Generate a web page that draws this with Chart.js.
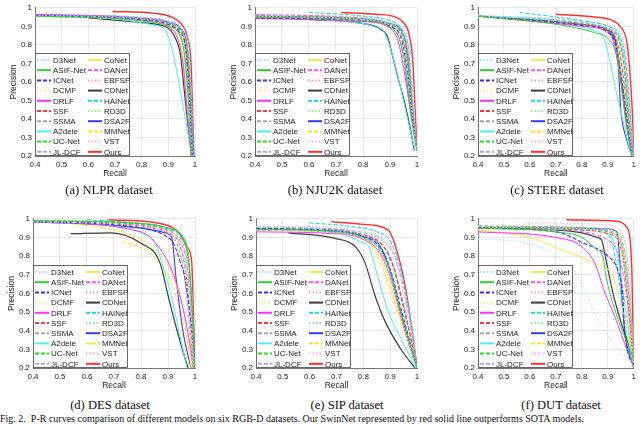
<!DOCTYPE html>
<html>
<head>
<meta charset="utf-8">
<script src="https://cdn.jsdelivr.net/npm/chart.js@4.4.0/dist/chart.umd.min.js"></script>
<style>
  body { margin: 0; background: #fff; }
  #fig { position: relative; width: 640px; height: 424px; overflow: hidden; background: #fff; }
  #fig canvas { position: absolute; }
  .sub { position: absolute; font-family: "Liberation Serif", serif; font-size: 12.6px; color: #111;
         white-space: nowrap; transform: translate(-50%, -50%); }
  #figcap { position: absolute; left: 0; top: 413px; font-family: "Liberation Serif", serif; font-size: 10px;
            color: #111; white-space: pre; }
</style>
</head>
<body>
<div id="fig">
  <canvas id="cA" width="213" height="183" style="left:0px;top:0px"></canvas>
  <canvas id="cB" width="215" height="183" style="left:220px;top:0px"></canvas>
  <canvas id="cC" width="197" height="183" style="left:443px;top:0px"></canvas>
  <canvas id="cD" width="215" height="184" style="left:-2px;top:211px"></canvas>
  <canvas id="cE" width="215" height="184" style="left:221px;top:211px"></canvas>
  <canvas id="cF" width="197" height="184" style="left:443px;top:211px"></canvas>
  <div class="sub" style="left:109px;top:190px">(a) NLPR dataset</div>
  <div class="sub" style="left:335px;top:190px">(b) NJU2K dataset</div>
  <div class="sub" style="left:557px;top:190px">(c) STERE dataset</div>
  <div class="sub" style="left:110px;top:405px">(d) DES dataset</div>
  <div class="sub" style="left:347px;top:405px">(e) SIP dataset</div>
  <div class="sub" style="left:561px;top:405px">(f) DUT dataset</div>
  <div id="figcap">Fig. 2.  P-R curves comparison of different models on six RGB-D datasets. Our SwinNet represented by red solid line outperforms SOTA models.</div>
</div>
<script>
// model names, legend order (two columns of ten)
const models = ['D3Net', 'ASIF-Net', 'ICNet', 'DCMF', 'DRLF', 'SSF', 'SSMA', 'A2dele', 'UC-Net', 'JL-DCF',
                'CoNet', 'DANet', 'EBFSP', 'CDNet', 'HAINet', 'RD3D', 'DSA2F', 'MMNet', 'VST', 'Ours'];

const xTicks = [0.4, 0.5, 0.6, 0.7, 0.8, 0.9, 1];
const yTicks = [0.2, 0.3, 0.4, 0.5, 0.6, 0.7, 0.8, 0.9, 1];

// [recall, precision] points, one row per model
const nlpr = [
  [[.4,.96],[.8,.94],[.9,.915],[.94,.88],[.96,.8],[.975,.6],[.985,.35],[.99,.2]],
  [[.4,.955],[.8,.93],[.9,.9],[.94,.86],[.96,.75],[.975,.5],[.985,.2]],
  [[.4,.96],[.8,.935],[.9,.91],[.94,.87],[.965,.78],[.98,.5],[.99,.2]],
  [[.4,.955],[.8,.93],[.9,.905],[.94,.86],[.96,.76],[.975,.5],[.988,.2]],
  [[.4,.965],[.8,.935],[.9,.9],[.93,.85],[.955,.7],[.97,.45],[.985,.2]],
  [[.4,.96],[.8,.94],[.9,.915],[.945,.87],[.965,.78],[.98,.5],[.99,.2]],
  [[.4,.96],[.8,.935],[.9,.905],[.94,.86],[.96,.76],[.975,.5],[.988,.2]],
  [[.4,.955],[.7,.94],[.85,.905],[.89,.875],[.99,.2]],
  [[.4,.96],[.8,.94],[.9,.915],[.95,.87],[.97,.78],[.983,.5],[.992,.2]],
  [[.4,.965],[.8,.945],[.9,.925],[.95,.88],[.97,.8],[.985,.5],[.993,.2]],
  [[.4,.955],[.8,.93],[.9,.9],[.935,.85],[.955,.74],[.97,.5],[.985,.2]],
  [[.4,.962],[.8,.94],[.9,.915],[.945,.87],[.965,.78],[.98,.5],[.99,.2]],
  [[.4,.96],[.8,.94],[.9,.918],[.945,.875],[.968,.78],[.982,.5],[.99,.2]],
  [[.6,.945],[.8,.92],[.9,.89],[.925,.84],[.945,.75],[.96,.55],[.975,.35],[.988,.2]],
  [[.4,.963],[.8,.945],[.9,.92],[.95,.88],[.97,.8],[.985,.5],[.993,.2]],
  [[.4,.965],[.8,.948],[.9,.928],[.95,.89],[.972,.8],[.987,.5],[.995,.2]],
  [[.4,.963],[.8,.945],[.9,.922],[.95,.88],[.97,.8],[.985,.5],[.995,.2]],
  [[.4,.958],[.8,.935],[.9,.91],[.94,.87],[.962,.78],[.978,.5],[.99,.2]],
  [[.4,.966],[.8,.95],[.9,.93],[.95,.9],[.975,.82],[.988,.5],[.996,.2]],
  [[.69,.98],[.85,.97],[.92,.945],[.95,.91],[.97,.85],[.985,.7],[.992,.4],[.996,.2]]
];

const nju2k = [
  [[.4,.955],[.8,.935],[.9,.905],[.94,.85],[.96,.72],[.98,.45],[1,.23]],
  [[.4,.95],[.8,.93],[.9,.895],[.935,.83],[.955,.7],[.975,.45],[1,.23]],
  [[.4,.945],[.8,.93],[.9,.9],[.94,.84],[.96,.7],[.98,.45],[1,.23]],
  [[.4,.95],[.8,.935],[.9,.905],[.94,.85],[.96,.72],[.98,.45],[1,.23]],
  [[.4,.942],[.8,.925],[.9,.89],[.93,.82],[.95,.68],[.975,.45],[1,.23]],
  [[.4,.955],[.8,.935],[.9,.905],[.94,.85],[.962,.72],[.98,.45],[1,.23]],
  [[.4,.95],[.8,.93],[.9,.895],[.935,.83],[.955,.68],[.975,.45],[1,.23]],
  [[.4,.945],[.7,.93],[.85,.895],[.88,.865],[.993,.23]],
  [[.4,.955],[.8,.937],[.9,.91],[.945,.86],[.965,.74],[.982,.45],[1,.23]],
  [[.4,.958],[.8,.94],[.9,.915],[.945,.87],[.968,.75],[.985,.45],[1,.23]],
  [[.4,.948],[.8,.93],[.9,.895],[.935,.83],[.955,.7],[.975,.45],[1,.23]],
  [[.4,.965],[.8,.94],[.9,.91],[.94,.86],[.962,.73],[.98,.45],[1,.23]],
  [[.4,.955],[.8,.937],[.9,.91],[.945,.86],[.965,.74],[.982,.45],[1,.23]],
  [[.55,.94],[.8,.915],[.86,.89],[.89,.845],[.906,.76],[.93,.62],[.952,.5],[.975,.35],[.99,.23]],
  [[.6,.975],[.8,.955],[.9,.93],[.945,.88],[.97,.76],[.985,.45],[1,.23]],
  [[.4,.96],[.8,.945],[.9,.92],[.95,.875],[.972,.76],[.987,.45],[1,.23]],
  [[.4,.955],[.8,.94],[.9,.915],[.945,.87],[.965,.75],[.983,.45],[1,.23]],
  [[.4,.955],[.8,.935],[.9,.905],[.94,.85],[.962,.72],[.98,.45],[1,.23]],
  [[.4,.962],[.8,.95],[.9,.93],[.95,.89],[.975,.78],[.99,.45],[1,.23]],
  [[.72,.975],[.85,.965],[.92,.95],[.95,.92],[.97,.86],[.985,.7],[.993,.45],[1,.23]]
];

const stere = [
  [[.4,.958],[.8,.915],[.9,.885],[.935,.84],[.955,.72],[.975,.45],[.995,.2]],
  [[.4,.955],[.75,.9],[.85,.865],[.9,.835],[.93,.76],[.955,.55],[.98,.3],[.995,.2]],
  [[.4,.955],[.8,.905],[.9,.87],[.93,.8],[.955,.6],[.975,.38],[.995,.2]],
  [[.4,.952],[.8,.905],[.9,.87],[.93,.8],[.955,.62],[.975,.4],[.995,.2]],
  [[.4,.955],[.8,.9],[.9,.865],[.925,.8],[.95,.6],[.97,.38],[.995,.2]],
  [[.4,.955],[.8,.91],[.9,.88],[.935,.82],[.958,.65],[.978,.4],[.995,.2]],
  [[.4,.955],[.8,.905],[.9,.875],[.93,.8],[.955,.6],[.975,.4],[.995,.2]],
  [[.4,.955],[.7,.93],[.85,.875],[.88,.85],[.94,.5],[.99,.2]],
  [[.4,.955],[.8,.915],[.9,.885],[.94,.84],[.96,.72],[.978,.45],[.995,.2]],
  [[.4,.958],[.8,.92],[.9,.89],[.945,.84],[.965,.72],[.982,.45],[.997,.2]],
  [[.4,.952],[.8,.905],[.9,.87],[.93,.8],[.955,.62],[.975,.4],[.995,.2]],
  [[.4,.957],[.8,.915],[.9,.885],[.94,.835],[.962,.7],[.98,.42],[.997,.2]],
  [[.4,.955],[.8,.915],[.9,.885],[.94,.835],[.962,.7],[.98,.42],[.997,.2]],
  [[.4,.955],[.8,.91],[.9,.875],[.93,.81],[.95,.65],[.97,.4],[.993,.2]],
  [[.56,.975],[.8,.93],[.9,.9],[.945,.85],[.968,.72],[.985,.45],[.998,.2]],
  [[.4,.958],[.8,.925],[.9,.9],[.948,.85],[.97,.73],[.986,.45],[.998,.2]],
  [[.4,.955],[.8,.91],[.9,.88],[.93,.82],[.94,.7],[.95,.45],[.97,.3],[.993,.2]],
  [[.4,.955],[.8,.91],[.9,.88],[.935,.82],[.958,.66],[.978,.4],[.996,.2]],
  [[.4,.96],[.8,.93],[.9,.905],[.95,.86],[.972,.74],[.988,.45],[.999,.2]],
  [[.7,.965],[.85,.95],[.92,.93],[.95,.895],[.975,.8],[.99,.55],[.997,.35],[1,.2]]
];

const des = [
  [[.4,.985],[.8,.96],[.9,.93],[.945,.88],[.97,.75],[.985,.5],[.995,.2]],
  [[.4,.99],[.8,.975],[.9,.95],[.95,.91],[.975,.8],[.99,.5],[.998,.2]],
  [[.4,.985],[.8,.95],[.9,.9],[.92,.87],[.945,.77],[.963,.68],[.98,.5],[.994,.33],[1,.25]],
  [[.4,.985],[.8,.96],[.9,.925],[.94,.87],[.965,.72],[.982,.45],[.992,.2]],
  [[.4,.983],[.8,.93],[.88,.82],[.915,.72],[.944,.59],[.97,.42],[.988,.26],[.993,.2]],
  [[.4,.987],[.8,.96],[.9,.925],[.94,.87],[.965,.72],[.983,.45],[.993,.2]],
  [[.4,.985],[.8,.955],[.9,.92],[.935,.86],[.96,.7],[.98,.42],[.992,.2]],
  [[.4,.985],[.7,.96],[.8,.925],[.856,.86],[.88,.75],[.91,.6],[.94,.4],[.97,.2]],
  [[.4,.99],[.8,.972],[.9,.945],[.95,.9],[.975,.78],[.99,.5],[.998,.2]],
  [[.4,.988],[.8,.968],[.9,.94],[.948,.89],[.972,.76],[.988,.5],[.997,.2]],
  [[.4,.985],[.6,.965],[.75,.92],[.85,.84],[.9,.75],[.94,.6],[.97,.4],[.985,.2]],
  [[.4,.988],[.8,.965],[.9,.935],[.945,.88],[.97,.75],[.986,.48],[.995,.2]],
  [[.4,.985],[.8,.96],[.9,.93],[.94,.87],[.965,.74],[.983,.48],[.994,.2]],
  [[.54,.92],[.69,.925],[.8,.869],[.87,.765],[.9,.59],[.93,.42],[.969,.225],[.975,.2]],
  [[.6,.995],[.8,.975],[.9,.95],[.95,.905],[.975,.78],[.99,.5],[.998,.2]],
  [[.4,.99],[.8,.975],[.9,.95],[.952,.91],[.976,.8],[.99,.52],[.998,.2]],
  [[.4,.985],[.8,.95],[.9,.92],[.914,.9],[.93,.68],[.955,.4],[.985,.2]],
  [[.73,.878],[.846,.8],[.92,.625],[.97,.36],[.99,.2]],
  [[.4,.99],[.8,.978],[.9,.955],[.955,.915],[.978,.8],[.992,.5],[.999,.2]],
  [[.68,.995],[.85,.98],[.92,.95],[.944,.92],[.97,.85],[.988,.765],[.995,.45],[1,.2]]
];

const sip = [
  [[.4,.958],[.7,.935],[.8,.91],[.86,.86],[.9,.76],[.94,.55],[.97,.38],[1,.2]],
  [[.4,.945],[.7,.93],[.8,.9],[.86,.84],[.9,.72],[.94,.5],[.97,.35],[1,.2]],
  [[.4,.948],[.7,.935],[.8,.905],[.86,.85],[.9,.73],[.94,.52],[.97,.36],[1,.2]],
  [[.4,.942],[.7,.925],[.8,.895],[.86,.83],[.9,.7],[.935,.5],[.97,.33],[1,.2]],
  [[.4,.93],[.7,.92],[.8,.89],[.86,.82],[.9,.69],[.935,.5],[.97,.33],[1,.2]],
  [[.4,.945],[.7,.935],[.8,.91],[.87,.86],[.91,.75],[.945,.55],[.975,.37],[1,.2]],
  [[.4,.94],[.7,.925],[.8,.895],[.86,.83],[.9,.7],[.935,.5],[.97,.33],[1,.2]],
  [[.4,.945],[.7,.925],[.8,.87],[.82,.852],[.856,.677],[.893,.503],[.95,.33],[.995,.2]],
  [[.4,.948],[.7,.937],[.8,.912],[.87,.86],[.91,.75],[.945,.56],[.975,.37],[1,.2]],
  [[.4,.955],[.7,.945],[.8,.925],[.88,.88],[.92,.79],[.955,.6],[.98,.4],[1,.2]],
  [[.4,.94],[.7,.925],[.8,.89],[.85,.83],[.89,.7],[.93,.5],[.97,.32],[1,.2]],
  [[.4,.95],[.7,.94],[.8,.915],[.87,.865],[.91,.76],[.945,.57],[.975,.38],[1,.2]],
  [[.4,.95],[.7,.94],[.8,.915],[.88,.87],[.92,.78],[.95,.6],[.978,.4],[1,.2]],
  [[.52,.925],[.694,.895],[.769,.852],[.806,.765],[.843,.59],[.881,.45],[.943,.294],[.993,.2]],
  [[.6,.978],[.75,.96],[.85,.93],[.9,.88],[.935,.75],[.96,.58],[.985,.38],[1,.2]],
  [[.4,.955],[.7,.945],[.8,.93],[.88,.89],[.92,.8],[.955,.62],[.98,.4],[1,.2]],
  [[.4,.945],[.7,.935],[.8,.905],[.865,.85],[.9,.72],[.935,.52],[.97,.34],[1,.2]],
  [[.4,.945],[.7,.93],[.8,.895],[.82,.87],[.86,.78],[.9,.62],[.94,.45],[.97,.33],[1,.2]],
  [[.4,.96],[.7,.955],[.8,.945],[.88,.91],[.925,.8],[.955,.62],[.98,.42],[1,.2]],
  [[.68,.985],[.8,.97],[.893,.939],[.937,.765],[.962,.59],[.98,.416],[.999,.216]]
];

const dut = [
  [[.4,.89],[.55,.88],[.65,.84],[.72,.78],[.8,.66],[.845,.503],[.9,.38],[.95,.28],[.995,.226]],
  [[.4,.95],[.7,.93],[.8,.9],[.857,.834],[.88,.8],[.895,.677],[.93,.5],[.97,.35],[1,.25]],
  [[.4,.95],[.7,.93],[.807,.869],[.9,.8],[.94,.72],[.957,.6],[.965,.4],[.985,.25],[1,.22]],
  [[.4,.955],[.8,.945],[.9,.925],[.945,.88],[.965,.74],[.985,.48],[1,.22]],
  [[.4,.93],[.7,.9],[.8,.85],[.85,.76],[.89,.6],[.92,.5],[.96,.35],[1,.2]],
  [[.4,.95],[.8,.94],[.9,.92],[.945,.87],[.965,.72],[.985,.45],[1,.22]],
  [[.4,.962],[.8,.95],[.9,.93],[.95,.88],[.97,.75],[.985,.5],[1,.22]],
  [[.4,.95],[.8,.94],[.9,.92],[.93,.85],[.95,.7],[.97,.5],[.99,.3],[1,.22]],
  [[.4,.955],[.8,.945],[.9,.93],[.945,.89],[.965,.75],[.985,.5],[1,.22]],
  [[.4,.96],[.8,.95],[.9,.935],[.95,.9],[.97,.78],[.988,.5],[1,.22]],
  [[.4,.94],[.6,.9],[.72,.835],[.85,.76],[.918,.696],[.95,.55],[.98,.35],[1,.2]],
  [[.4,.955],[.8,.93],[.88,.9],[.93,.84],[.96,.7],[.98,.5],[1,.22]],
  [[.4,.94],[.8,.87],[.895,.817],[.94,.7],[.97,.5],[.99,.3],[1,.22]],
  [[.4,.95],[.7,.94],[.8,.925],[.86,.9],[.876,.886],[.89,.8],[.92,.6],[.95,.45],[.98,.32],[1,.22]],
  [[.4,.955],[.8,.94],[.895,.922],[.92,.85],[.94,.7],[.96,.5],[.98,.3],[1,.22]],
  [[.4,.96],[.8,.955],[.9,.945],[.95,.915],[.975,.8],[.99,.5],[1,.22]],
  [[.4,.955],[.8,.95],[.9,.945],[.935,.93],[.945,.8],[.955,.55],[.97,.35],[1,.22]],
  [[.4,.955],[.8,.95],[.9,.94],[.95,.91],[.965,.75],[.98,.5],[1,.22]],
  [[.58,.978],[.9,.968],[.94,.945],[.96,.9],[.975,.8],[.988,.55],[1,.22]],
  [[.74,.995],[.9,.99],[.95,.982],[.97,.96],[.985,.9],[.993,.7],[.997,.4],[1,.2]]
];

// line styles per model
const lineColors = ['#9ee6f5', '#33cc33', '#3333ff', '#f0f08c', '#ff33ff', '#ff3b3b', '#a6a6a6', '#4df0f0', '#22e022', '#a6a6ff',
                    '#eeee50', '#ff4dff', '#ff9e9e', '#3d3d3d', '#1ad6e6', '#8fef8f', '#3a3af5', '#ffe41a', '#ffa6ff', '#ff3030'];
const dot = [1.5, 2], dash = [4, 2];
const lineDash = [dot, [], dash, dot, [], dash, dash, [], dash, dash,
                  [], dash, dot, [], dash, dot, [], dash, dot, []];
const lineWidth = [1, 1, 1.1, 1, 1, 1, 1, 1, 1.1, 1,
                   1, 1, 1, 1.2, 1, 1, 1.1, 1, 1, 1.4];

const TXT = '#262626';
const sans = '"Liberation Sans", Arial, sans-serif';

const insetLegend = {
  id: 'insetLegend',
  afterDraw(chart) {
    const { ctx, chartArea } = chart;
    const w = 95, h = 103;
    const x0 = chartArea.left, y0 = chartArea.bottom - h;
    ctx.save();
    ctx.fillStyle = '#fff';
    ctx.fillRect(x0, y0, w, h);
    ctx.strokeStyle = '#444';
    ctx.lineWidth = 0.8;
    ctx.strokeRect(x0 + 0.5, y0 + 0.5, w - 1, h - 1);
    ctx.font = '8px ' + sans;
    ctx.textBaseline = 'middle';
    chart.data.datasets.forEach((ds, i) => {
      const col = Math.floor(i / 10), row = i % 10;
      const lx = x0 + 2 + col * 51, ly = y0 + 7 + row * 10.2;
      ctx.strokeStyle = ds.borderColor;
      ctx.lineWidth = 2;
      ctx.setLineDash(ds.borderDash);
      ctx.beginPath();
      ctx.moveTo(lx, ly);
      ctx.lineTo(lx + 14, ly);
      ctx.stroke();
      ctx.setLineDash([]);
      ctx.fillStyle = TXT;
      ctx.fillText(ds.label, lx + 16, ly + 0.5);
    });
    ctx.restore();
  }
};

function tickFmt(v) {
  return String(+v.toFixed(1));
}

function makeChart(id, curves, padRight) {
  return new Chart(document.getElementById(id), {
    type: 'scatter',
    data: {
      datasets: models.map((name, i) => ({
        label: name,
        data: curves[i].map(([r, p]) => ({ x: r, y: p })),
        showLine: true,
        borderColor: lineColors[i],
        borderDash: lineDash[i],
        borderWidth: lineWidth[i],
        pointRadius: 0,
        fill: false,
        cubicInterpolationMode: 'monotone'
      }))
    },
    options: {
      responsive: false,
      animation: false,
      devicePixelRatio: 1,
      layout: { padding: { left: 0, right: padRight, top: 4, bottom: 0 } },
      plugins: { legend: { display: false }, tooltip: { enabled: false } },
      scales: {
        x: {
          type: 'linear', min: xTicks[0], max: xTicks[xTicks.length - 1],
          afterBuildTicks: s => { s.ticks = xTicks.map(v => ({ value: v })); },
          afterFit: s => { s.height = 27; },
          ticks: { color: TXT, font: { family: sans, size: 8 }, padding: 4, maxRotation: 0, autoSkip: false, callback: tickFmt },
          grid: { color: '#e2e2e2', lineWidth: 0.8, drawTicks: false },
          border: { color: '#5a5a5a', width: 0.8 },
          title: { display: true, text: 'Recall', color: TXT, font: { family: sans, size: 8.5 }, padding: { top: 0, bottom: 4 } }
        },
        y: {
          type: 'linear', min: yTicks[0], max: yTicks[yTicks.length - 1],
          afterBuildTicks: s => { s.ticks = yTicks.map(v => ({ value: v })); },
          afterFit: s => { s.width = 35; },
          ticks: { color: TXT, font: { family: sans, size: 8 }, padding: 3, autoSkip: false, callback: tickFmt },
          grid: { color: '#e2e2e2', lineWidth: 0.8, drawTicks: false },
          border: { color: '#5a5a5a', width: 0.8 },
          title: { display: true, text: 'Precision', color: TXT, font: { family: sans, size: 8.5 }, padding: { top: 9, bottom: 0 } }
        }
      }
    },
    plugins: [insetLegend]
  });
}

makeChart('cA', nlpr, 18);
makeChart('cB', nju2k, 18);
makeChart('cC', stere, 2);
makeChart('cD', des, 18);
makeChart('cE', sip, 19);
makeChart('cF', dut, 2);
</script>
</body>
</html>
